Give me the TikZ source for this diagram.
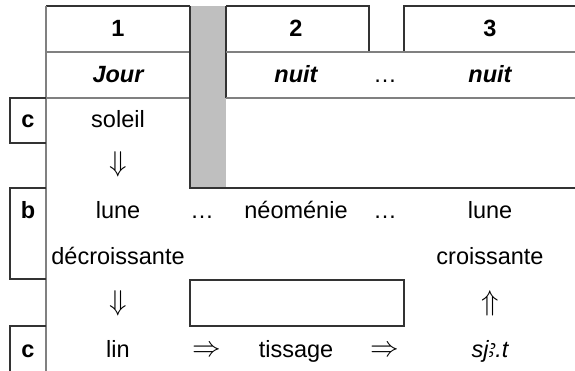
\documentclass[tikz,border=0pt]{standalone}
\usepackage{fontspec}
\setmainfont{Liberation Sans}
\newfontfamily\alefont{Noto Sans}
\tikzset{
  frame/.style={draw=black!80, line width=1.1pt},
  thin/.style={draw=black!50, line width=1.3pt},
  cell/.style={font=\fontsize{23.5}{28}\selectfont, inner sep=0pt, anchor=base},
  head/.style={cell, font=\fontsize{23.5}{28}\selectfont\bfseries},
  title/.style={cell, font=\fontsize{23.5}{28}\selectfont\bfseries\itshape},
  arr/.style={cell, scale=1.15},
}
\begin{document}
\begin{tikzpicture}[x=1pt, y=-1pt]
  \useasboundingbox (0,0) rectangle (575,371);
  % grey bar
  \fill[black!25] (190,6) rectangle (226,188);
  % column heads
  \draw[frame] (46,6) -- (190,6);
  \draw[frame] (226,6) -- (369,6) -- (369,52);
  \draw[frame] (404,52) -- (404,6) -- (575,6);
  \draw[frame] (226,98) -- (226,6);
  \draw[thin] (46,52) -- (190,52);
  \draw[thin] (226,52) -- (575,52);
  \draw[thin] (46,98) -- (190,98);
  \draw[thin] (226,98) -- (575,98);
  \draw[frame] (190,6) -- (190,188) -- (575,188);
  \draw[thin] (46,6) -- (46,371);
  % side labels
  \draw[frame] (46,98) -- (10,98) -- (10,143) -- (46,143);
  \draw[frame] (46,188) -- (10,188) -- (10,279) -- (46,279);
  \draw[frame] (46,326) -- (10,326) -- (10,371);
  % empty box
  \draw[frame] (190,280) rectangle (404,326);

  \node (n1) [head] at (118,37) {1};
  \node (n2) [head] at (296,37) {2};
  \node (n3) [head] at (490,37) {3};
  \node (jour) [title] at (118,83) {Jour};
  \node (nuit1) [title] at (296,83) {nuit};
  \node (dots1) [cell] at (385,83) {…};
  \node (nuit2) [title] at (490,83) {nuit};

  \node (c1) [head] at (28,128) {c};
  \node (soleil) [cell] at (118,128) {soleil};
  \node (down1) [arr] at (118,172) {$\Downarrow$};

  \node (b) [head] at (28,219) {b};
  \node (lune1) [cell] at (118,219) {lune};
  \node (dots2) [cell] at (202,219) {…};
  \node (neo) [cell] at (296,219) {néoménie};
  \node (dots3) [cell] at (385,219) {…};
  \node (lune2) [cell] at (490,219) {lune};
  \node (decr) [cell] at (118,265) {décroissante};
  \node (cr) [cell] at (490,265) {croissante};
  \node (down2) [arr] at (118,310) {$\Downarrow$};
  \node (up) [arr] at (490,310) {$\Uparrow$};

  \node (c2) [head] at (28,357) {c};
  \node (lin) [cell] at (118,357) {lin};
  \node (to1) [arr] at (207,356) {$\Rightarrow$};
  \node (tiss) [cell] at (296,357) {tissage};
  \node (to2) [arr] at (385,356) {$\Rightarrow$};
  \node (sjat) [cell, font=\fontsize{23.5}{28}\selectfont\itshape] at (490,357) {sj{\alefont\itshape ꜣ}.t};
\end{tikzpicture}
\end{document}
